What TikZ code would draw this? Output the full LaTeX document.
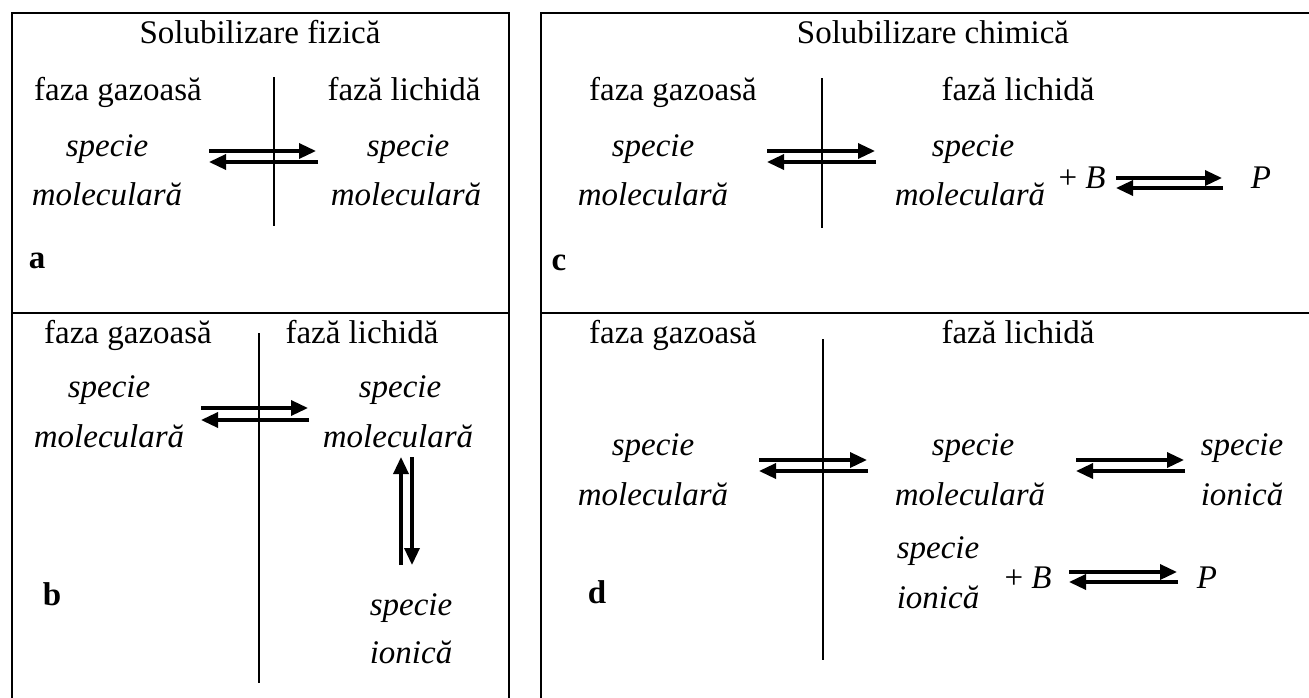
\documentclass[tikz,border=0pt]{standalone}
\usepackage{fontspec}
\setmainfont{Liberation Serif}
\usetikzlibrary{arrows.meta}
\tikzset{
  txt/.style={font=\fontsize{33}{40}\selectfont, anchor=base, inner sep=0pt},
  spc/.style={txt, font=\fontsize{33}{40}\selectfont\itshape},
  tag/.style={txt, font=\fontsize{33}{40}\selectfont\bfseries},
  frame/.style={line width=2.6pt},
  wall/.style={line width=2.6pt},
  eqarr/.style={line width=3.4pt, -{Triangle[length=17pt,width=15pt]}},
}

\begin{document}
\begin{tikzpicture}[x=1pt,y=-1pt]
  \useasboundingbox (0,0) rectangle (1309,697);

  % ======= Frames =======
  \draw[frame] (12,700) -- (12,13) -- (509,13) -- (509,700);
  \draw[frame] (12,313) -- (509,313);
  \draw[frame] (541,700) -- (541,13) -- (1320,13);
  \draw[frame] (541,313) -- (1320,313);

  % ======= a: physical (top left) =======
  \node[txt] (aTitle) at (260,43) {Solubilizare fizică};
  \node[txt] (aGas) at (118,100) {faza gazoasă};
  \node[txt] (aLiq) at (404,100) {fază lichidă};
  \node[spc] (aS1) at (107,156) {specie};
  \node[spc] (aM1) at (107,205) {moleculară};
  \node[spc] (aS2) at (408,156) {specie};
  \node[spc] (aM2) at (406,205) {moleculară};
  \node[tag] (aTag) at (37,268) {a};
  % interface
  \coordinate (aTop) at (274,77);
  \coordinate (aBot) at (274,226);
  \draw[wall] (aTop) -- (aBot);
  % gas <-> liquid
  \coordinate (aF1) at (209,151); \coordinate (aF2) at (316,151);
  \coordinate (aR1) at (318,162); \coordinate (aR2) at (209,162);
  \draw[eqarr] (aF1) -- (aF2);
  \draw[eqarr] (aR1) -- (aR2);

  % ======= b: physical + ionisation (bottom left) =======
  \node[txt] (bGas) at (128,343) {faza gazoasă};
  \node[txt] (bLiq) at (362,343) {fază lichidă};
  \node[spc] (bS1) at (109,397) {specie};
  \node[spc] (bM1) at (109,447) {moleculară};
  \node[spc] (bS2) at (400,397) {specie};
  \node[spc] (bM2) at (398,447) {moleculară};
  \node[spc] (bS3) at (411,615) {specie};
  \node[spc] (bI3) at (411,663) {ionică};
  \node[tag] (bTag) at (52,605) {b};
  % interface
  \coordinate (bTop) at (259,333);
  \coordinate (bBot) at (259,683);
  \draw[wall] (bTop) -- (bBot);
  % gas <-> liquid
  \coordinate (bF1) at (201,408); \coordinate (bF2) at (308,408);
  \coordinate (bR1) at (309,420); \coordinate (bR2) at (201,420);
  \draw[eqarr] (bF1) -- (bF2);
  \draw[eqarr] (bR1) -- (bR2);
  % molecular <-> ionic
  \coordinate (bU1) at (401,565); \coordinate (bU2) at (401,457);
  \coordinate (bD1) at (412,457); \coordinate (bD2) at (412,565);
  \draw[eqarr] (bU1) -- (bU2);
  \draw[eqarr] (bD1) -- (bD2);

  % ======= c: chemical (top right) =======
  \node[txt] (cTitle) at (933,43) {Solubilizare chimică};
  \node[txt] (cGas) at (673,100) {faza gazoasă};
  \node[txt] (cLiq) at (1018,100) {fază lichidă};
  \node[spc] (cS1) at (653,156) {specie};
  \node[spc] (cM1) at (653,205) {moleculară};
  \node[spc] (cS2) at (973,156) {specie};
  \node[spc] (cM2) at (970,205) {moleculară};
  \node[txt] (cB) at (1082,188) {+ \textit{B}};
  \node[spc] (cP) at (1261,188) {P};
  \node[tag] (cTag) at (559,270) {c};
  % interface
  \coordinate (cTop) at (822,78);
  \coordinate (cBot) at (822,228);
  \draw[wall] (cTop) -- (cBot);
  % gas <-> liquid
  \coordinate (cF1) at (767,151); \coordinate (cF2) at (875,151);
  \coordinate (cR1) at (876,162); \coordinate (cR2) at (767,162);
  \draw[eqarr] (cF1) -- (cF2);
  \draw[eqarr] (cR1) -- (cR2);
  % reaction with B
  \coordinate (cK1) at (1116,178); \coordinate (cK2) at (1222,178);
  \coordinate (cL1) at (1223,188); \coordinate (cL2) at (1116,188);
  \draw[eqarr] (cK1) -- (cK2);
  \draw[eqarr] (cL1) -- (cL2);

  % ======= d: chemical + ionisation (bottom right) =======
  \node[txt] (dGas) at (673,343) {faza gazoasă};
  \node[txt] (dLiq) at (1018,343) {fază lichidă};
  \node[spc] (dS1) at (653,455) {specie};
  \node[spc] (dM1) at (653,505) {moleculară};
  \node[spc] (dS2) at (973,455) {specie};
  \node[spc] (dM2) at (970,505) {moleculară};
  \node[spc] (dS3) at (1242,455) {specie};
  \node[spc] (dI3) at (1242,505) {ionică};
  \node[spc] (dS4) at (938,558) {specie};
  \node[spc] (dI4) at (938,608) {ionică};
  \node[txt] (dB) at (1028,588) {+ \textit{B}};
  \node[spc] (dP) at (1207,588) {P};
  \node[tag] (dTag) at (597,603) {d};
  % interface
  \coordinate (dTop) at (823,339);
  \coordinate (dBot) at (823,660);
  \draw[wall] (dTop) -- (dBot);
  % gas <-> liquid
  \coordinate (dF1) at (759,460); \coordinate (dF2) at (867,460);
  \coordinate (dR1) at (868,471); \coordinate (dR2) at (759,471);
  \draw[eqarr] (dF1) -- (dF2);
  \draw[eqarr] (dR1) -- (dR2);
  % molecular <-> ionic
  \coordinate (dG1) at (1076,460); \coordinate (dG2) at (1184,460);
  \coordinate (dH1) at (1185,471); \coordinate (dH2) at (1076,471);
  \draw[eqarr] (dG1) -- (dG2);
  \draw[eqarr] (dH1) -- (dH2);
  % reaction with B
  \coordinate (dK1) at (1069,572); \coordinate (dK2) at (1177,572);
  \coordinate (dL1) at (1178,582); \coordinate (dL2) at (1069,582);
  \draw[eqarr] (dK1) -- (dK2);
  \draw[eqarr] (dL1) -- (dL2);
\end{tikzpicture}
\end{document}
